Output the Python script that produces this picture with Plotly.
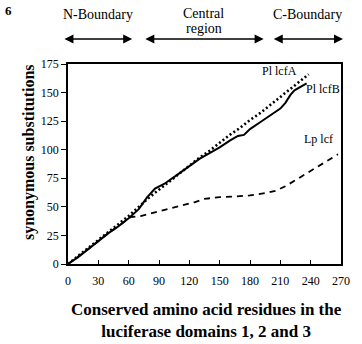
import plotly.graph_objects as go

# Cumulative synonymous substitutions along the conserved luciferase residues
lcfA_x = [0, 10, 20, 30, 40, 50, 60, 70, 80, 90, 100, 110, 120, 130, 140, 150, 160, 170, 180, 190, 200, 210, 220, 230, 238]
lcfA_y = [0, 7, 14, 21, 28, 35, 42, 50, 58, 65, 72, 79, 86, 93, 99, 106, 113, 119, 126, 132, 139, 146, 153, 160, 166]

lcfB_x = [0, 10, 20, 30, 40, 50, 60, 70, 78, 86, 95, 108, 120, 130, 140, 150, 160, 168, 174, 180, 190, 200, 210, 215, 220, 224, 230, 236]
lcfB_y = [0, 6, 13, 20, 27, 33, 40, 48, 58, 66, 70, 78, 86, 92, 97, 102, 108, 112, 113, 118, 124, 130, 136, 141, 148, 152, 155, 158]

lp_x = [0, 20, 40, 62, 72, 85, 100, 112, 125, 135, 150, 165, 180, 195, 205, 215, 225, 237, 250, 262, 267]
lp_y = [0, 13, 27, 41, 42, 45, 48, 51, 54, 57, 58.5, 59, 60, 62, 64, 68, 73.5, 80, 87, 94, 96]

x_ticks = [0, 30, 60, 90, 120, 150, 180, 210, 240, 270]
y_ticks = [0, 25, 50, 75, 100, 125, 150, 175]

series_labels = ["Pl lcfA", "Pl lcfB", "Lp lcf"]
label_pos = [(209, 169), (252, 153), (248, 109)]

# Domain boundaries (residue ranges) drawn as double-headed arrows above the plot
domain_spans = [(-5, 63.5), (75, 193.5), (202, 272)]
# header lines for each domain: (text, pixel row of its centre)
domain_text = [[("N-Boundary", 15)], [("Central", 13), ("region", 28)], [("C-Boundary", 15)]]

SERIF = "Liberation Serif"

# plot area in pixels: left 68, right 347, top 64, bottom 264
L, W, T, H = 68, 279, 64, 200


def px(xp):
    return (xp - L) / W


def py(yp):
    return (T + H - yp) / H


fig = go.Figure()
fig.add_trace(go.Scatter(x=lp_x, y=lp_y, mode="lines",
                         line=dict(color="black", width=1.8, dash="6px,5px")))
fig.add_trace(go.Scatter(x=lcfA_x, y=lcfA_y, mode="lines",
                         line=dict(color="black", width=2.6, dash="2px,2.5px")))
fig.add_trace(go.Scatter(x=lcfB_x, y=lcfB_y, mode="lines",
                         line=dict(color="black", width=2)))

annotations = []
for text, (lx, ly) in zip(series_labels, label_pos):
    annotations.append(dict(x=lx, y=ly, xref="x", yref="y", text=text, showarrow=False,
                            font=dict(family=SERIF, size=12, color="black")))

for lines, (a, b) in zip(domain_text, domain_spans):
    annotations.append(dict(x=b, y=py(39), xref="x", yref="paper", ax=a, ay=0,
                            axref="x", ayref="pixel", text="", showarrow=True,
                            arrowhead=2, startarrowhead=2, arrowside="end+start",
                            arrowsize=1.2, startarrowsize=1.2, arrowwidth=1.5,
                            arrowcolor="black"))
    for text, row in lines:
        annotations.append(dict(x=(a + b) / 2, y=py(row), xref="x", yref="paper",
                                text=text, showarrow=False, yanchor="middle",
                                font=dict(family=SERIF, size=14, color="black")))

annotations.append(dict(x=px(2), y=py(1), xref="paper", yref="paper",
                        xanchor="left", yanchor="top", text="<b>6</b>", showarrow=False,
                        font=dict(family=SERIF, size=13, color="black")))
annotations.append(dict(x=px(17), y=py(152), xref="paper", yref="paper",
                        text="<b>synonymous substitutions</b>", textangle=-90,
                        showarrow=False, font=dict(family=SERIF, size=16, color="black")))
annotations.append(dict(x=px(210), y=py(343), xref="paper", yref="paper",
                        text="<b>Conserved amino acid residues in the<br>luciferase domains 1, 2 and 3</b>",
                        showarrow=False, font=dict(family=SERIF, size=17, color="black")))

fig.update_layout(
    width=362, height=344,
    margin=dict(l=L, r=362 - L - W, t=T, b=344 - T - H),
    paper_bgcolor="white", plot_bgcolor="white",
    showlegend=False,
    annotations=annotations,
    xaxis=dict(range=[0, 270], tickvals=x_ticks, ticks="inside", ticklen=4,
               tickwidth=1.2, tickcolor="black", showline=True, linecolor="black",
               linewidth=1.5, mirror=True, showgrid=False, zeroline=False,
               ticklabelstandoff=5,
               tickfont=dict(family=SERIF, size=12, color="black")),
    yaxis=dict(range=[0, 175], tickvals=y_ticks, ticks="outside", ticklen=5,
               tickwidth=1.2, tickcolor="black", showline=True, linecolor="black",
               linewidth=1.5, mirror=True, showgrid=False, zeroline=False,
               tickfont=dict(family=SERIF, size=12, color="black")),
)

fig.write_html("out.html")
